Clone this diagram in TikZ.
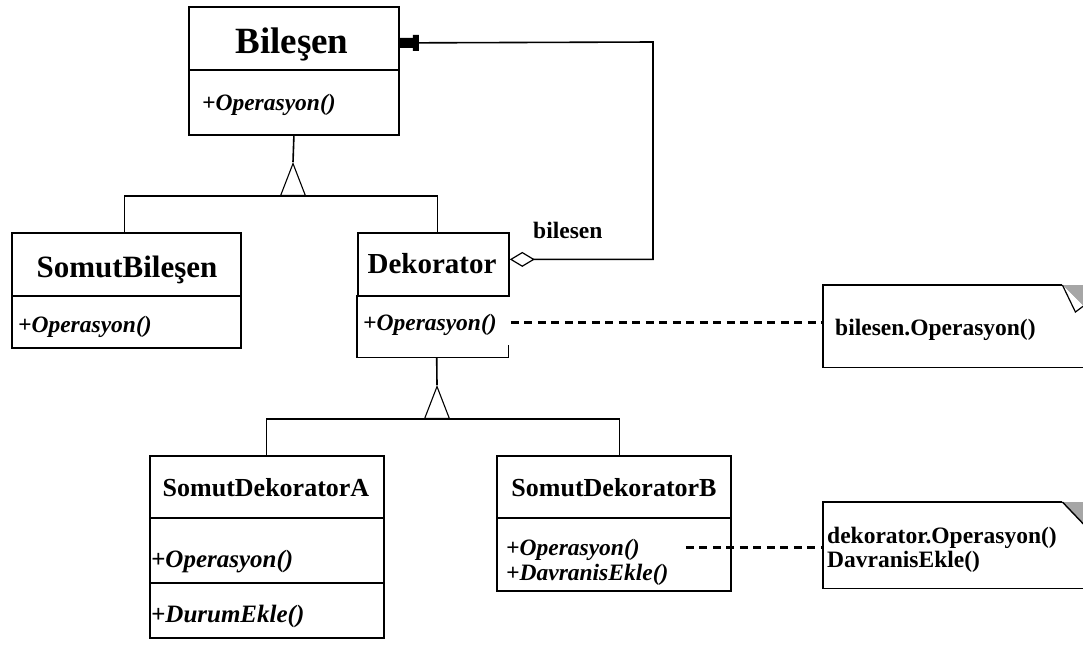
\documentclass[tikz,border=0pt]{standalone}
\usepackage{fontspec}
\setmainfont{Liberation Serif}
\usetikzlibrary{arrows.meta}
\begin{document}
\begin{tikzpicture}[x=1pt,y=-1pt,
  cls/.style={draw, line width=1.8pt, inner sep=0pt, anchor=north west},
  cmp/.style={inner sep=0pt, anchor=north west},
  ttl/.style={font=\bfseries\fontsize{#1}{#1}\selectfont, anchor=base, inner sep=0pt},
  op/.style={font=\bfseries\itshape\fontsize{#1}{26}\selectfont, anchor=base west, inner sep=0pt},
  op/.default=23.5,
  txt/.style={font=\bfseries\fontsize{23.5}{26}\selectfont, anchor=base west, inner sep=0pt},
  gen/.style={line width=1.2pt, -{Triangle[open,length=34pt,width=26pt,line width=1.1pt]}},
  notedash/.style={line width=2.4pt, dash pattern=on 8pt off 5.5pt},
  notebox/.style={inner sep=0pt, anchor=north west},
  fold/.style={fill=black!35},
]
\useasboundingbox (0,0) rectangle (1083,646);

% Bileşen
\node[cls, minimum width=210, minimum height=63] (bilT) at (188,6) {};
\node[cls, minimum width=210, minimum height=65] (bilO) at (188,69) {};
\node[ttl=37] (bilN) at (292,53) {Bileşen};
\node[op] (bilOp) at (202,110) {+Operasyon()};

% SomutBileşen
\node[cls, minimum width=229, minimum height=63] (sbT) at (11,232) {};
\node[cls, minimum width=229, minimum height=52] (sbO) at (11,295) {};
\node[ttl=31] (sbN) at (127,277) {SomutBileşen};
\node[op] (sbOp) at (18,332) {+Operasyon()};

% Dekorator (lower right edge left open)
\node[cls, minimum width=151, minimum height=63] (dkT) at (357,232) {};
\node[cmp, minimum width=151, minimum height=62] (dkO) at (357,295) {};
\draw[line width=1.8pt] (dkO.north west) -- (dkO.south west) -- (dkO.south east) -- ++(0,-12);
\node[ttl=29] (dkN) at (432,273) {Dekorator};
\node[op] (dkOp) at (363,330) {+Operasyon()};

% SomutDekoratorA
\node[cls, minimum width=234, minimum height=62] (saT) at (149,455) {};
\node[cls, minimum width=234, minimum height=65] (saO) at (149,517) {};
\node[cls, minimum width=234, minimum height=55] (saD) at (149,582) {};
\node[ttl=26] (saN) at (266,496) {SomutDekoratorA};
\node[op=25] (saOp) at (151,567) {+Operasyon()};
\node[op=25] (saDe) at (151,622) {+DurumEkle()};

% SomutDekoratorB
\node[cls, minimum width=234, minimum height=62] (sbbT) at (496,455) {};
\node[cls, minimum width=234, minimum height=73] (sbbO) at (496,517) {};
\node[ttl=26] (sbbN) at (614,496) {SomutDekoratorB};
\node[op] (sbbOp) at (506,555) {+Operasyon()};
\node[op] (sbbDe) at (506,580) {+DavranisEkle()};

% notes
\node[notebox, minimum width=262, minimum height=82] (n1) at (823,285) {};
\draw[line width=1.6pt] ([xshift=-23pt]n1.north east) -- (n1.north west) -- (n1.south west) -- (n1.south east);
\fill[fold] ([xshift=-23pt]n1.north east) -- ([xshift=-2pt]n1.north east) -- ([xshift=-2pt,yshift=-21pt]n1.north east) -- cycle;
\draw[line width=1.2pt, fill=white] ([xshift=-23pt]n1.north east) -- ([xshift=-10pt,yshift=-27pt]n1.north east) -- ([xshift=-2pt,yshift=-21pt]n1.north east);
\node[txt] (n1t) at (835,335) {bilesen.Operasyon()};

\node[notebox, minimum width=262, minimum height=86] (n2) at (823,502) {};
\draw[line width=1.6pt] ([xshift=-23pt]n2.north east) -- (n2.north west) -- (n2.south west) -- (n2.south east);
\fill[fold] ([xshift=-23pt]n2.north east) -- ([xshift=-2pt]n2.north east) -- ([xshift=-2pt,yshift=-22pt]n2.north east) -- cycle;
\draw[line width=1.4pt] ([xshift=-23pt]n2.north east) -- ([xshift=-2pt,yshift=-22pt]n2.north east);
\node[txt] (n2a) at (827,543) {dekorator.Operasyon()};
\node[txt] (n2b) at (827,567) {DavranisEkle()};

% generalisation to Bileşen
\coordinate (apex1) at (293,162);
\coordinate (bus1) at (293,196);
\draw[line width=1.6pt] (bilO.south) -- (apex1);
\draw[gen] (bus1) -- (apex1);
\draw[line width=1.8pt] ([xshift=-2pt]sbT.north) |- ([xshift=4pt]dkT.north |- bus1) -- ([xshift=4pt]dkT.north);

% generalisation to Dekorator
\coordinate (apex2) at (437,385);
\coordinate (bus2) at (437,419);
\draw[line width=1.6pt] ([xshift=4pt]dkO.south) -- (apex2);
\draw[gen] (bus2) -- (apex2);
\draw[line width=1.1pt] (saT.north) |- ([xshift=6pt]sbbT.north |- bus2) -- ([xshift=6pt]sbbT.north);

% aggregation Dekorator -> Bileşen
\coordinate (agg) at (653,42);
\node[txt] (aggL) at (533,238) {bilesen};
\draw[line width=1.6pt, {Diamond[open,length=25pt,width=15pt,line width=1.2pt]}-{Rectangle[length=6pt,width=16pt]Rectangle[length=13pt,width=10pt]}]
  ([yshift=5pt]dkT.east) -| (agg) -- ([yshift=-4.5pt]bilT.east);

% note links
\coordinate (d1) at ([xshift=14pt,yshift=2pt]dkOp.east);
\coordinate (d2) at ([xshift=46pt,yshift=2pt]sbbOp.east);
\draw[notedash] (d1) -- (d1 -| n1.west);
\draw[notedash] (d2) -- (d2 -| n2.west);
\end{tikzpicture}
\end{document}
